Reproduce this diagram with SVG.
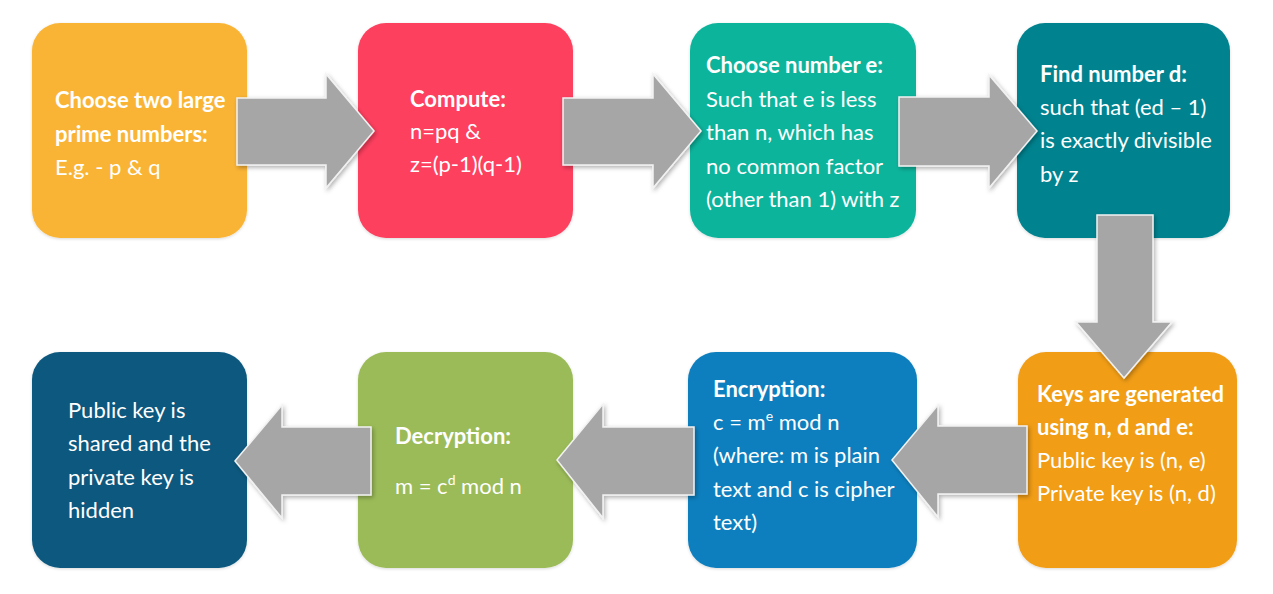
<svg xmlns="http://www.w3.org/2000/svg" width="1273" height="594" viewBox="0 0 1273 594">
  <defs>
    <filter id="sh" x="-20%" y="-20%" width="140%" height="140%">
      <feDropShadow dx="1.5" dy="2" stdDeviation="2" flood-color="#000" flood-opacity="0.3"/>
    </filter>
    <filter id="bsh" x="-10%" y="-10%" width="120%" height="120%">
      <feDropShadow dx="0" dy="1" stdDeviation="1.5" flood-color="#000" flood-opacity="0.15"/>
    </filter>
  </defs>
  <style>
    .box { filter: url(#bsh); }
    .t { font-family: Lato, "Open Sans", "Liberation Sans", sans-serif; font-size: 22px; fill: #ffffff; }
    .b { font-weight: bold; }
    .sup { font-size: 14px; }
    .arr { fill: #a6a6a6; stroke: #f2f2f2; stroke-width: 1.5; stroke-linejoin: miter; filter: url(#sh); }
  </style>
  <rect width="1273" height="594" fill="#ffffff"/>

  <g id="node-choose-primes">
    <rect class="box" x="32" y="23" width="215" height="215" rx="28" fill="#FAB434"/>
    <text class="t b" x="55" y="108">Choose two large</text>
    <text class="t b" x="55" y="142">prime numbers:</text>
    <text class="t" x="55" y="175">E.g. - p &amp; q</text>
  </g>

  <g id="node-compute">
    <rect class="box" x="358" y="23" width="215" height="215" rx="28" fill="#FE3F5E"/>
    <text class="t b" x="410" y="107">Compute:</text>
    <text class="t" x="410" y="139">n=pq &amp;</text>
    <text class="t" x="410" y="172">z=(p-1)(q-1)</text>
  </g>

  <g id="node-choose-e">
    <rect class="box" x="690" y="23" width="226" height="215" rx="28" fill="#0CB49C"/>
    <text class="t b" x="706" y="73">Choose number e:</text>
    <text class="t" x="706" y="107">Such that e is less</text>
    <text class="t" x="706" y="140">than n, which has</text>
    <text class="t" x="706" y="174">no common factor</text>
    <text class="t" x="706" y="207">(other than 1) with z</text>
  </g>

  <g id="node-find-d">
    <rect class="box" x="1017" y="23" width="213" height="215" rx="28" fill="#03838F"/>
    <text class="t b" x="1040" y="82">Find number d:</text>
    <text class="t" x="1040" y="115">such that (ed – 1)</text>
    <text class="t" x="1040" y="148">is exactly divisible</text>
    <text class="t" x="1040" y="182">by z</text>
  </g>

  <g id="node-keys">
    <rect class="box" x="1018" y="352" width="219" height="216" rx="28" fill="#F19D19"/>
    <text class="t b" x="1037" y="402">Keys are generated</text>
    <text class="t b" x="1037" y="435">using n, d and e:</text>
    <text class="t" x="1037" y="468">Public key is (n, e)</text>
    <text class="t" x="1037" y="501">Private key is (n, d)</text>
  </g>

  <g id="node-encryption">
    <rect class="box" x="688" y="352" width="229" height="216" rx="28" fill="#107FBE"/>
    <text class="t b" x="713" y="397">Encryption:</text>
    <text class="t" x="713" y="430">c = m<tspan class="sup" dy="-9">e</tspan><tspan dy="9"> mod n</tspan></text>
    <text class="t" x="713" y="463">(where: m is plain</text>
    <text class="t" x="713" y="497">text and c is cipher</text>
    <text class="t" x="713" y="530">text)</text>
  </g>

  <g id="node-decryption">
    <rect class="box" x="358" y="352" width="215" height="216" rx="28" fill="#9BBB59"/>
    <text class="t b" x="395" y="444">Decryption:</text>
    <text class="t" x="395" y="494">m = c<tspan class="sup" dy="-9">d</tspan><tspan dy="9"> mod n</tspan></text>
  </g>

  <g id="node-public-key">
    <rect class="box" x="32" y="352" width="215" height="216" rx="28" fill="#0A587E"/>
    <text class="t" x="68" y="418">Public key is</text>
    <text class="t" x="68" y="451">shared and the</text>
    <text class="t" x="68" y="485">private key is</text>
    <text class="t" x="68" y="518">hidden</text>
  </g>

  <g id="connectors">
    <path class="arr" d="M237,98 H326 V74 L374,131 L326,188 V165 H237 Z"/>
    <path class="arr" d="M563,98 H653 V74 L701,131 L653,188 V165 H563 Z"/>
    <path class="arr" d="M899,97 H989 V75 L1037,131 L989,188 V166 H899 Z"/>
    <path class="arr" d="M1097,215 H1153 V322 H1172 L1124,378 L1076,322 H1097 Z"/>
    <path class="arr" d="M892,460 L938,405 V426 H1027 V494 H938 V517 Z"/>
    <path class="arr" d="M557,460 L603,404 V427 H694 V495 H603 V518 Z"/>
    <path class="arr" d="M235,461 L282,405 V427 H371 V495 H282 V518 Z"/>
  </g>
</svg>
